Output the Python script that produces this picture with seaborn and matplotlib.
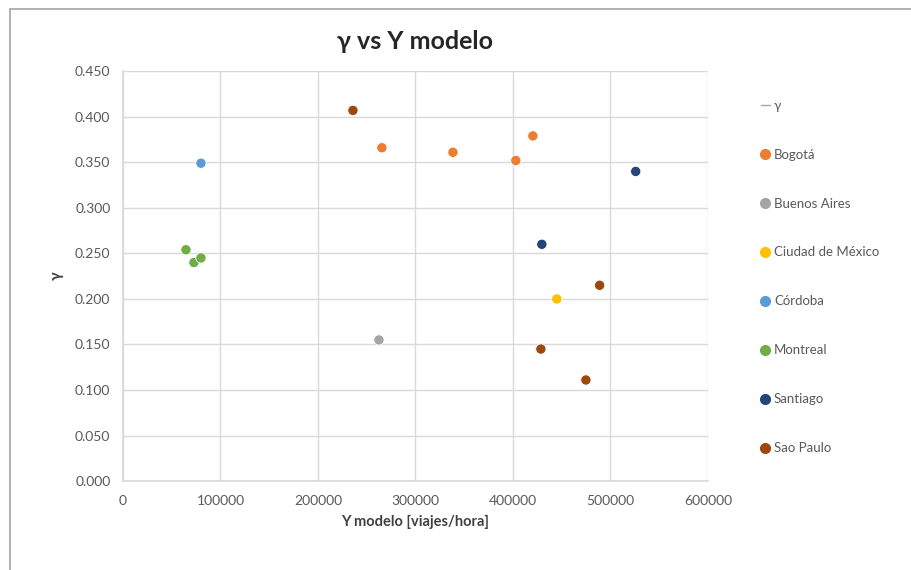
import pandas as pd
import numpy as np
import matplotlib.pyplot as plt
import seaborn as sns
from matplotlib.lines import Line2D
from matplotlib.patches import Rectangle

# data
ciudad = ['Bogotá', 'Bogotá', 'Bogotá', 'Bogotá',
          'Buenos Aires', 'Ciudad de México', 'Córdoba',
          'Montreal', 'Montreal', 'Montreal',
          'Santiago', 'Santiago',
          'Sao Paulo', 'Sao Paulo', 'Sao Paulo', 'Sao Paulo']
y_modelo = [265600, 338500, 403000, 420500,
            262600, 445000, 80000,
            64600, 72800, 80000,
            526000, 429700,
            235900, 489000, 428700, 474900]
gamma = [0.366, 0.361, 0.352, 0.379,
         0.155, 0.200, 0.349,
         0.254, 0.240, 0.245,
         0.340, 0.260,
         0.407, 0.215, 0.145, 0.111]

orden = ['Bogotá', 'Buenos Aires', 'Ciudad de México', 'Córdoba',
         'Montreal', 'Santiago', 'Sao Paulo']
colores = ['#ED7D31', '#A5A5A5', '#FFC000', '#5B9BD5',
           '#70AD47', '#264478', '#9E480E']

df = pd.DataFrame({'ciudad': ciudad, 'Y': y_modelo, 'gamma': gamma})

sns.set_theme(style='white')
plt.rcParams['font.family'] = ['Lato', 'DejaVu Sans']

fig = plt.figure(figsize=(9.11, 5.70), dpi=100)
ax = fig.add_axes([0.135, 0.156, 0.642, 0.719])

# chart border (top and left visible)
fig.add_artist(Rectangle((10 / 911, -0.1), 1.2, 1 - 9 / 570 + 0.1,
                         transform=fig.transFigure, fill=False,
                         edgecolor='#A6A6A6', linewidth=1.2))

sns.scatterplot(data=df, x='Y', y='gamma', hue='ciudad', hue_order=orden,
                palette=colores, s=55, edgecolor='white', linewidth=0.6,
                ax=ax, legend=False, zorder=3)

ax.set_xlim(0, 600000)
ax.set_ylim(0, 0.45)
ax.set_xticks(np.arange(0, 600001, 100000))
ax.set_yticks(np.arange(0, 0.4501, 0.05))
ax.set_yticklabels([f'{v:.3f}' for v in np.arange(0, 0.4501, 0.05)])
ax.grid(True, color='#D9D9D9', linewidth=1)
for s in ['top', 'right']:
    ax.spines[s].set_visible(False)
ax.spines['left'].set_color('#D9D9D9')
ax.spines['bottom'].set_color('#D9D9D9')
ax.tick_params(axis='both', colors='#595959', labelsize=10, length=0)
ax.tick_params(axis='x', pad=10)
ax.tick_params(axis='y', pad=9)

ax.set_xlabel('Y modelo [viajes/hora]', fontsize=10.5, fontweight='bold',
              color='#404040', labelpad=6)
ax.set_ylabel('γ', fontsize=11, fontweight='bold', color='#404040', labelpad=8)
ax.set_title('γ vs Y modelo', fontsize=18, fontweight='bold',
             color='#262626', pad=16)

handles = [Line2D([0], [0], color='#A5A5A5', lw=1, label='γ')]
for nombre, c in zip(orden, colores):
    handles.append(Line2D([0], [0], marker='o', linestyle='', markersize=7,
                          markerfacecolor=c, markeredgecolor=c, label=nombre))
leg = fig.legend(handles=handles, loc='upper left',
                 bbox_to_anchor=(0.822, 0.846), frameon=False,
                 fontsize=9.5, labelspacing=2.8, handlelength=0.7,
                 handletextpad=0.3, labelcolor='#595959')

fig.savefig('out.png', dpi=100)
